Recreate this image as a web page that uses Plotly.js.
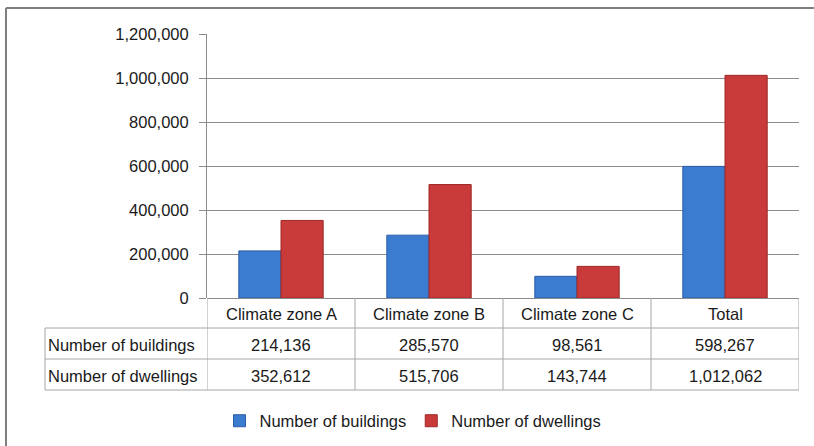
<!DOCTYPE html>
<html>
<head>
<meta charset="utf-8">
<script src="https://cdn.plot.ly/plotly-3.0.1.min.js"></script>
<style>
  html, body { margin: 0; padding: 0; background: #fff; }
  #chart { width: 814px; height: 446px; }
</style>
</head>
<body>
<div id="chart"></div>
<script>
// ---- data ----
const categories = ["Climate zone A", "Climate zone B", "Climate zone C", "Total"];
const seriesNames = ["Number of buildings", "Number of dwellings"];
const buildings = [214136, 285570, 98561, 598267];
const dwellings = [352612, 515706, 143744, 1012062];
const yTickVals = [0, 200000, 400000, 600000, 800000, 1000000, 1200000];
const yTickText = ["0", "200,000", "400,000", "600,000", "800,000", "1,000,000", "1,200,000"];

// ---- styling ----
const FONT = "'Liberation Sans', Arial, sans-serif";
const FS = 16.5;
const TXT = "#1a1a1a";
const GRID = "#8c8c8c";
const TBL = "#a6a6a6";
const W = 814, H = 446;
const M = {l: 207, r: 15, t: 34, b: 148, autoexpand: false};
const plotH = H - M.t - M.b;
const plotW = W - M.l - M.r;
const py = p => (H - M.b - p) / plotH;       // pixel y -> paper y
const px = p => (p - M.l) / plotW;           // pixel x -> paper x

const fmt = v => v.toLocaleString('en-US');

const traces = [
  {
    type: 'bar', name: seriesNames[0], x: categories, y: buildings,
    marker: {color: '#3b7bd0', line: {color: '#2c5ea6', width: 1}},
    hoverinfo: 'skip'
  },
  {
    type: 'bar', name: seriesNames[1], x: categories, y: dwellings,
    marker: {color: '#c93b3b', line: {color: '#9e2727', width: 1}},
    hoverinfo: 'skip'
  }
];

// table rows (row boundaries in pixels)
const rowEdges = [298, 328, 359, 390];
const tableLeft = 45;
const shapes = [];
const annotations = [];

shapes.push({type: 'line', xref: 'paper', yref: 'paper', x0: 0, x1: 1, y0: py(rowEdges[1]), y1: py(rowEdges[1]), line: {color: TBL, width: 1}});
shapes.push({type: 'line', xref: 'paper', yref: 'paper', x0: px(tableLeft), x1: 0, y0: py(rowEdges[1]), y1: py(rowEdges[1]), line: {color: TBL, width: 1}});
shapes.push({type: 'line', xref: 'paper', yref: 'paper', x0: px(tableLeft), x1: 1, y0: py(rowEdges[2]), y1: py(rowEdges[2]), line: {color: TBL, width: 1}});
shapes.push({type: 'line', xref: 'paper', yref: 'paper', x0: px(tableLeft), x1: 1, y0: py(rowEdges[3]), y1: py(rowEdges[3]), line: {color: TBL, width: 1}});
shapes.push({type: 'line', xref: 'paper', yref: 'paper', x0: px(tableLeft), x1: px(tableLeft), y0: py(rowEdges[1]), y1: py(rowEdges[3]), line: {color: TBL, width: 1}});
for (let i = 0; i <= categories.length; i++) {
  const xx = i - 0.5;
  shapes.push({type: 'line', xref: 'x', yref: 'paper', x0: xx, x1: xx, y0: 0, y1: py(rowEdges[3]), line: {color: TBL, width: 1}});
}
// outer chart border (top and left visible)
shapes.push({type: 'line', xref: 'paper', yref: 'paper', x0: px(6), x1: px(814), y0: py(8), y1: py(8), line: {color: '#7f7f7f', width: 2}});
shapes.push({type: 'line', xref: 'paper', yref: 'paper', x0: px(6), x1: px(6), y0: py(8), y1: py(446), line: {color: '#7f7f7f', width: 2}});

const rowMid = k => py((rowEdges[k] + rowEdges[k + 1]) / 2);
const cellFont = {family: FONT, size: FS, color: TXT};
categories.forEach((c, i) => {
  annotations.push({xref: 'x', yref: 'paper', x: c, y: rowMid(0), yshift: -1, text: c, showarrow: false, xanchor: 'center', yanchor: 'middle', font: cellFont});
  annotations.push({xref: 'x', yref: 'paper', x: c, y: rowMid(1), yshift: -1, text: fmt(buildings[i]), showarrow: false, xanchor: 'center', yanchor: 'middle', font: cellFont});
  annotations.push({xref: 'x', yref: 'paper', x: c, y: rowMid(2), yshift: -1, text: fmt(dwellings[i]), showarrow: false, xanchor: 'center', yanchor: 'middle', font: cellFont});
});
seriesNames.forEach((n, k) => {
  annotations.push({xref: 'paper', yref: 'paper', x: px(tableLeft + 1), y: rowMid(k + 1), yshift: -1, text: n, showarrow: false, xanchor: 'left', yanchor: 'middle', font: cellFont});
});

const layout = {
  width: W, height: H,
  margin: M,
  paper_bgcolor: '#ffffff', plot_bgcolor: '#ffffff',
  font: {family: FONT, size: FS, color: TXT},
  barmode: 'group',
  bargap: 0.43,
  bargroupgap: 0,
  showlegend: true,
  legend: {
    orientation: 'h', x: px(413), xanchor: 'center', y: py(421), yanchor: 'middle',
    font: {family: FONT, size: FS, color: TXT}, itemwidth: 30, tracegroupgap: 0,
    bgcolor: 'rgba(0,0,0,0)'
  },
  xaxis: {
    type: 'category', categoryorder: 'array', categoryarray: categories,
    range: [-0.5, categories.length - 0.5],
    showticklabels: false, ticks: '', showgrid: false, zeroline: false,
    showline: false, fixedrange: true
  },
  yaxis: {
    range: [0, 1200000],
    tickvals: yTickVals, ticktext: yTickText,
    ticks: 'outside', ticklen: 7, tickcolor: GRID, tickwidth: 1,
    showgrid: true, gridcolor: GRID, gridwidth: 1,
    showline: true, linecolor: GRID, linewidth: 1,
    zeroline: true, zerolinecolor: GRID, zerolinewidth: 1,
    tickfont: {family: FONT, size: FS, color: TXT},
    ticklabelstandoff: 7,
    fixedrange: true
  },
  shapes: shapes,
  annotations: annotations
};

Plotly.newPlot('chart', traces, layout, {displayModeBar: false, staticPlot: true});
</script>
</body>
</html>
